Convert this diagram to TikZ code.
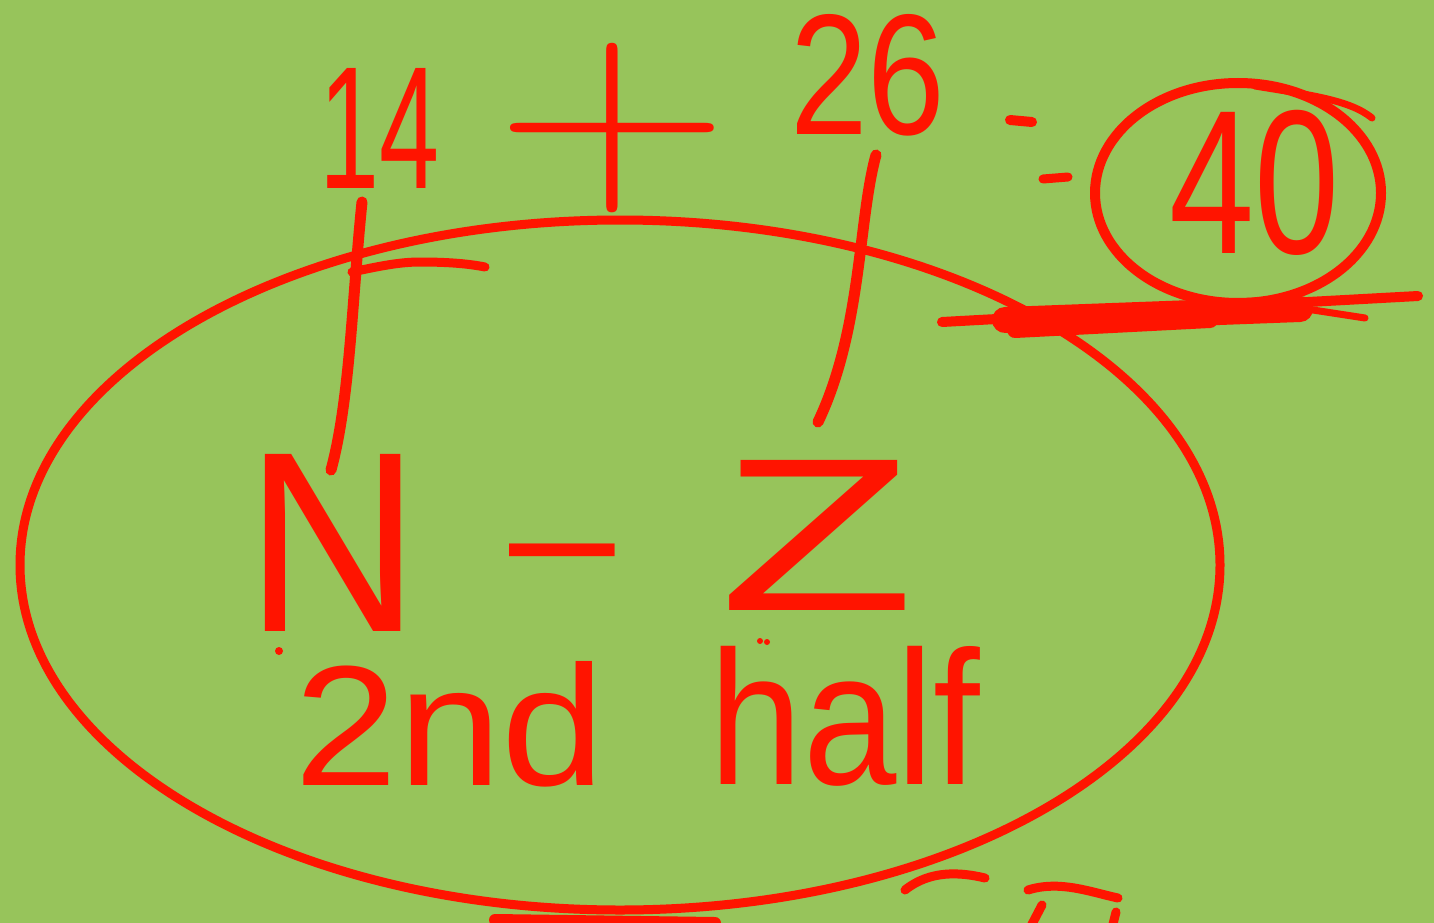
\documentclass[tikz,border=0pt]{standalone}
\usepackage{fontspec}
\setmainfont{Liberation Sans}
\newfontfamily\lmr{Latin Modern Roman}
\usepackage{graphicx}
\definecolor{bg}{HTML}{97C45B}
\definecolor{ink}{HTML}{FF1400}
\begin{document}
\begin{tikzpicture}[x=1pt,y=-1pt,
  pen/.style={draw=ink,line width=11pt,line cap=round,line join=round},
  word/.style={text=ink,inner sep=0pt,outer sep=0pt}]
\fill[bg] (0,0) rectangle (1434,923);
\useasboundingbox (0,0) rectangle (1434,923);
% big ellipse
\draw[pen,line width=9pt] (620,565) ellipse [x radius=600, y radius=345];
% texts
\node[word] (n14) at (380,128) {\resizebox{120pt}{120pt}{14}};
\node[word,font=\lmr\fontsize{260}{260}\selectfont] (plus) at (612,128) {\scalebox{1.25}[1.04]{+}};
\node[word] (n26) at (868,75) {\resizebox{155pt}{120pt}{26}};
\node[word] (n40) at (1255,183) {\resizebox{170pt}{143pt}{40}};
\node[word] (nN) at (333,543) {\resizebox{175pt}{177pt}{N}};
\node[word,anchor=base,font=\fontsize{190}{190}\selectfont] (dash) at (562,598) {–};
\node[word] (nZ) at (817,535) {\resizebox{195pt}{150pt}{Z}};
\node[word] (second) at (450,724) {\resizebox{310pt}{124pt}{2nd}};
\node[word] (half) at (845,716) {\resizebox{270pt}{138pt}{half}};
% equals as two short dashes
\draw[pen,line width=10pt] (1010,120) -- (1032,122);
\draw[pen,line width=9pt] (1043,179) -- (1068,177);
% connector strokes
\draw[pen] (362,202) .. controls (352,300) and (350,400) .. (331,470);
\draw[pen,line width=9pt] (352,272) .. controls (380,266) and (400,262) .. (420,262) .. controls (450,262) and (470,264) .. (485,267);
\draw[pen] (876,155) .. controls (858,220) and (862,330) .. (818,422);
% circle around 40
\draw[pen,line width=10pt] (1238,193) ellipse [x radius=143, y radius=110];
\draw[pen,line width=7pt] (1255,86) .. controls (1310,95) and (1350,100) .. (1372,118);
% underline
\draw[pen,line width=10pt] (942,322) -- (1418,296);
\draw[pen,line width=26pt] (1005,320) -- (1300,309);
\draw[pen,line width=16pt] (1015,330) -- (1210,320);
\draw[pen,line width=7pt] (1300,308) -- (1365,318);
% bottom scribbles
\draw[pen,line width=12pt] (495,920) -- (715,923);
\draw[pen,line width=9pt] (905,890) .. controls (930,870) and (960,872) .. (985,878);
\draw[pen,line width=9pt] (1028,890) .. controls (1060,880) and (1090,892) .. (1118,898);
\draw[pen,line width=9pt] (1042,905) -- (1030,928);
\draw[pen,line width=9pt] (1116,912) -- (1112,928);
% small marks
\fill[ink] (279,651) circle (4);
\fill[ink] (760,641) circle (3);
\fill[ink] (767,642) circle (3);
\end{tikzpicture}
\end{document}
